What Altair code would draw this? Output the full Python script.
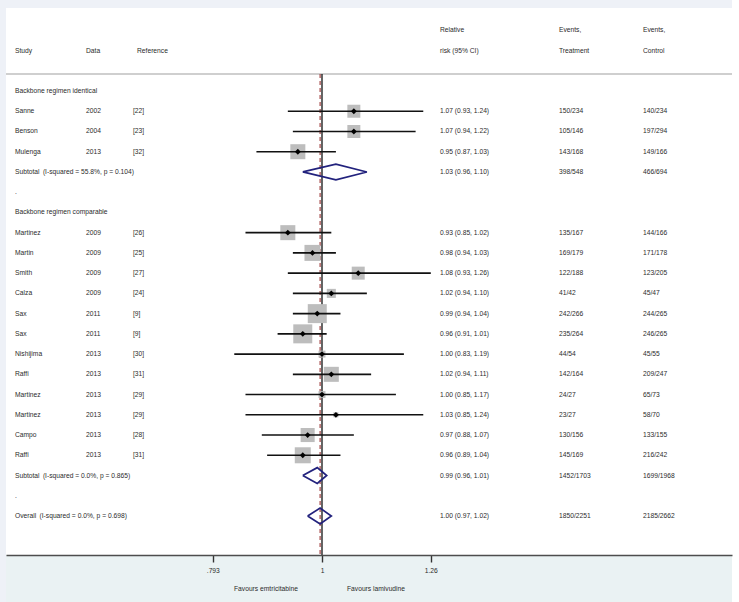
import altair as alt
import pandas as pd

# ---- study-level data -------------------------------------------------------
group_titles = ["Backbone regimen identical", "Backbone regimen comparable"]
group_sizes = [3, 12]

study = ["Sanne", "Benson", "Mulenga",
         "Martinez", "Martin", "Smith", "Calza", "Sax", "Sax", "Nishijima",
         "Raffi", "Martinez", "Martinez", "Campo", "Raffi"]
year = ["2002", "2004", "2013",
        "2009", "2009", "2009", "2009", "2011", "2011", "2013",
        "2013", "2013", "2013", "2013", "2013"]
ref = ["[22]", "[23]", "[32]",
       "[26]", "[25]", "[27]", "[24]", "[9]", "[9]", "[30]",
       "[31]", "[29]", "[29]", "[28]", "[31]"]
rr = [1.07, 1.07, 0.95,
      0.93, 0.98, 1.08, 1.02, 0.99, 0.96, 1.00, 1.02, 1.00, 1.03, 0.97, 0.96]
rr_lo = [0.93, 0.94, 0.87,
         0.85, 0.94, 0.93, 0.94, 0.94, 0.91, 0.83, 0.94, 0.85, 0.85, 0.88, 0.89]
rr_hi = [1.24, 1.22, 1.03,
         1.02, 1.03, 1.26, 1.10, 1.04, 1.01, 1.19, 1.11, 1.17, 1.24, 1.07, 1.04]
events_trt = ["150/234", "105/146", "143/168",
              "135/167", "169/179", "122/188", "41/42", "242/266", "235/264",
              "44/54", "142/164", "24/27", "23/27", "130/156", "145/169"]
events_ctl = ["140/234", "197/294", "149/166",
              "144/166", "171/178", "123/205", "45/47", "244/265", "246/265",
              "45/55", "209/247", "65/73", "58/70", "133/155", "216/242"]
weight = [6.0, 6.0, 8.0,
          8.0, 9.1, 6.0, 2.9, 12.8, 12.8, 1.7, 8.0, 1.7, 0.9, 7.0, 9.1]

# ---- pooled estimates ---------------------------------------------------------
sub_label = ["Subtotal\u2002(I-squared = 55.8%, p = 0.104)",
             "Subtotal\u2002(I-squared = 0.0%, p = 0.865)"]
sub_est = [1.03, 0.99]
sub_lo = [0.96, 0.96]
sub_hi = [1.10, 1.01]
sub_trt = ["398/548", "1452/1703"]
sub_ctl = ["466/694", "1699/1968"]

overall_label = "Overall\u2002(I-squared = 0.0%, p = 0.698)"
overall_est = 0.996
overall_lo = 0.97
overall_hi = 1.02
overall_trt = "1850/2251"
overall_ctl = "2185/2662"

axis_ticks = [0.793, 1.0, 1.26]

# ---- table layout (one row per line of the forest plot) ----------------------
def ci_text(e, l, h):
    return f"{e:.2f} ({l:.2f}, {h:.2f})"

study_rows, cells, pooled = [], [], []
row, k = 0, 0
for g, title in enumerate(group_titles):
    cells.append((row, "label", title))
    row += 1
    for _ in range(group_sizes[g]):
        study_rows.append(row)
        cells += [(row, "label", study[k]), (row, "year", year[k]),
                  (row, "ref", ref[k]),
                  (row, "rr", ci_text(rr[k], rr_lo[k], rr_hi[k])),
                  (row, "trt", events_trt[k]), (row, "ctl", events_ctl[k])]
        row += 1
        k += 1
    cells += [(row, "label", sub_label[g]),
              (row, "rr", ci_text(sub_est[g], sub_lo[g], sub_hi[g])),
              (row, "trt", sub_trt[g]), (row, "ctl", sub_ctl[g])]
    pooled.append((row, sub_est[g], sub_lo[g], sub_hi[g]))
    row += 1
    cells.append((row, "label", "."))
    row += 1
cells += [(row, "label", overall_label),
          (row, "rr", ci_text(overall_est, overall_lo, overall_hi)),
          (row, "trt", overall_trt), (row, "ctl", overall_ctl)]
pooled.append((row, overall_est, overall_lo, overall_hi))
last_row = row

# column headers (two header lines above the first row)
cells += [(-2, "label", "Study"), (-2, "year", "Data"), (-2, "refh", "Reference"),
          (-3, "rr", "Relative"), (-2, "rr", "risk (95% CI)"),
          (-3, "trt", "Events,"), (-2, "trt", "Treatment"),
          (-3, "ctl", "Events,"), (-2, "ctl", "Control")]

cells_df = pd.DataFrame(cells, columns=["row", "col", "text"])
studies_df = pd.DataFrame({"row": study_rows, "rr": rr, "lo": rr_lo,
                           "hi": rr_hi, "weight": weight})

# summary diamonds as closed polygons
dia = []
half = 0.39
for i, (r, e, l, h) in enumerate(pooled):
    pts = [(l, r), (e, r - half), (h, r), (e, r + half), (l, r)]
    for j, (x, y) in enumerate(pts):
        dia.append({"id": i, "k": j, "rr": x, "row": y})
dia_df = pd.DataFrame(dia)

# ---- geometry ----------------------------------------------------------------
W, H = 726, 547
FONT = "Liberation Sans"
FS = 6.7
TXT = "#2b2b2b"
row_top, row_bottom = -4.101, 22.927
sep_row = -0.84

xscale = alt.Scale(type="log", domain=[0.5111, 2.389], nice=False)
yscale = alt.Scale(domain=[row_top, row_bottom], reverse=True, nice=False, zero=False)
xaxis = alt.Axis(values=axis_ticks, title=None, grid=False, zindex=2,
                 labelExpr="datum.value == 1 ? '1' : datum.value < 1 ? '.793' : '1.26'",
                 domainColor="#4d4d4d", domainWidth=1.6, tickColor="#333333",
                 tickWidth=1.4, tickSize=7, labelFont=FONT, labelFontSize=FS,
                 labelColor=TXT, labelPadding=5)


def X(field):
    return alt.X(field, type="quantitative", scale=xscale, axis=xaxis)


def Y(field):
    return alt.Y(field, type="quantitative", scale=yscale, axis=None)


# frame decorations outside the plotting panel
bottom_band = alt.Chart(pd.DataFrame({"a": [0]})).mark_rect(color="#eaf2f3").encode(
    x=alt.value(0), x2=alt.value(W), y=alt.value(H), y2=alt.value(H + 47))
right_band = alt.Chart(pd.DataFrame({"a": [0]})).mark_rect(color="white").encode(
    x=alt.value(W), x2=alt.value(W + 7), y=alt.value(-8), y2=alt.value(H + 47))

ref_df = pd.DataFrame({"rr": [1.0], "row": [sep_row]})
sep_rule = alt.Chart(ref_df).mark_rule(color="#cfcfcf", strokeWidth=2).encode(
    x=alt.value(0), x2=alt.value(W), y=Y("row"))
null_line = alt.Chart(ref_df).mark_rule(color="#111111", strokeWidth=1.3).encode(
    x=X("rr"), y=Y("row"), y2=alt.value(H))
overall_df = pd.DataFrame({"rr": [overall_est], "row": [sep_row]})
overall_line = alt.Chart(overall_df).mark_rule(
    color="#9a3535", strokeWidth=1.1, strokeDash=[4, 3]).encode(
    x=X("rr"), y=Y("row"), y2=alt.value(H))

boxes = alt.Chart(studies_df).mark_square(color="#bdbdbd", opacity=1).encode(
    x=X("rr"), y=Y("row"),
    size=alt.Size("weight:Q", scale=alt.Scale(domain=[0, 12.8], range=[0, 361]),
                  legend=None))
ci = alt.Chart(studies_df).mark_rule(color="#111111", strokeWidth=1.6).encode(
    x=X("lo"), x2="hi", y=Y("row"))
pts = alt.Chart(studies_df).mark_point(shape="diamond", filled=True, color="#000000",
                                       size=34, opacity=1).encode(
    x=X("rr"), y=Y("row"))
diamonds = alt.Chart(dia_df).mark_line(color="#22227d", strokeWidth=1.7).encode(
    x=X("rr"), y=Y("row"), detail="id:N", order="k:Q")

col_x = {"label": 9, "year": 80, "ref": 127, "refh": 131,
         "rr": 434, "trt": 553, "ctl": 637}
text_layers = [
    alt.Chart(cells_df).transform_filter(alt.datum.col == c).mark_text(
        align="left", baseline="middle", font=FONT, fontSize=FS, color=TXT).encode(
        x=alt.value(px), y=Y("row"), text="text:N")
    for c, px in col_x.items()
]

favour_df = pd.DataFrame({"text": ["Favours emtricitabine", "Favours lamivudine"],
                          "px": [260, 370]})
favours = [
    alt.Chart(favour_df.iloc[[i]]).mark_text(
        align="center", baseline="middle", font=FONT, fontSize=FS, color=TXT).encode(
        x=alt.value(int(favour_df.px[i])), y=alt.value(H + 34), text="text:N")
    for i in range(len(favour_df))
]

chart = alt.layer(
    bottom_band, right_band, sep_rule, null_line, overall_line,
    boxes, ci, pts, diamonds, *text_layers, *favours
).properties(
    width=W, height=H,
    autosize=alt.AutoSizeParams(type="none"),
    padding={"left": 6, "top": 8, "right": 7, "bottom": 47},
    background="#eef1f7",
).configure_view(fill="white", stroke=None)

chart.save("out.html", embed_options={"renderer": "svg", "actions": False})
